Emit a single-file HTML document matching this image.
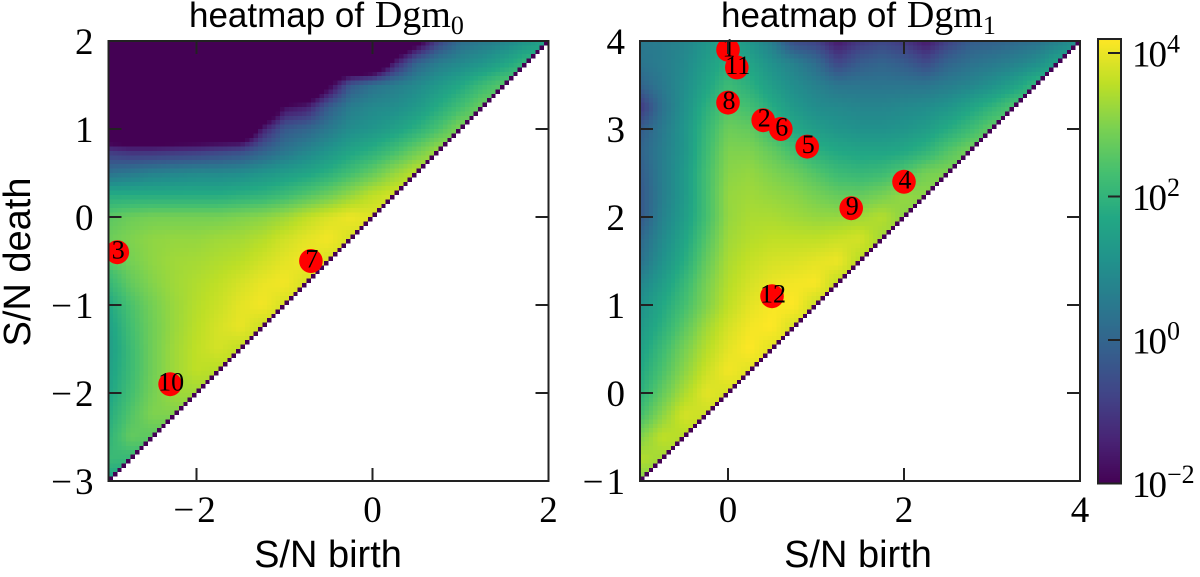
<!DOCTYPE html>
<html lang="en">
<head>
<meta charset="utf-8">
<title>Persistence diagram heatmaps</title>
<style>
html,body{margin:0;padding:0;background:#fff;width:1200px;height:577px;overflow:hidden}
svg{display:block}
.sans{font-family:"Liberation Sans",sans-serif;fill:#000}
.serif{font-family:"Liberation Serif",serif;fill:#000}
</style>
</head>
<body>
<svg id="chart" xmlns="http://www.w3.org/2000/svg" width="1200" height="577" viewBox="0 0 1200 577">
  <defs>
    <clipPath id="clip-left"><rect x="108.5" y="41" width="440" height="440"/></clipPath>
    <clipPath id="clip-right"><rect x="640" y="41" width="440" height="440"/></clipPath>
  </defs>
  <g id="panel-left"></g>
  <g id="panel-right"></g>
  <g id="colorbar"></g>
  <text x="189" y="27" class="sans" font-size="35">heatmap of <tspan class="serif" font-size="38" dx="1">Dgm</tspan><tspan class="serif" font-size="26" dy="7">0</tspan></text>
  <text x="721" y="27" class="sans" font-size="35">heatmap of <tspan class="serif" font-size="38" dx="1">Dgm</tspan><tspan class="serif" font-size="26" dy="7">1</tspan></text>
  <text x="328" y="567" class="sans" font-size="38" text-anchor="middle">S/N birth</text>
  <text x="858" y="567" class="sans" font-size="38" text-anchor="middle">S/N birth</text>
  <text x="30" y="262" class="sans" font-size="38" text-anchor="middle" transform="rotate(-90 30 262)">S/N death</text>
</svg>
<script>
// log10 density, one reading every 0.25 units.
// Rows run from the top of the axis down; each row stops at the diagonal.
const heatLeft = [
[-4,-4,-4,-4,-4,-4,-4,-4,-4,-4,-4,-4,-4,-4,-2.5,-0.8,0.2,0.5,0.8,1.2,1.6],
[-4,-4,-4,-4,-4,-4,-4,-4,-4,-4,-4,-4,-4,-1.5,0,0.6,0.9,1.2,1.6,2.1],
[-4,-4,-4,-4,-4,-4,-4,-4,-4,-4,-2.2,-0.3,0.3,0.6,0.9,1.3,1.7,2.2,2.6],
[-4,-4,-4,-4,-4,-4,-4,-4,-1.8,-1.5,-0.2,0.6,0.9,1.0,1.3,1.8,2.3,2.8],
[-4,-4,-4,-4,-4,-4,-4,-1.5,-0.3,0,0.5,1.0,1.2,1.5,1.9,2.4,3.0],
[-1.0,-1.2,-1.2,-1.1,-1.0,-0.8,-0.6,-0.1,0.4,0.8,1.2,1.6,1.9,2.3,2.8,3.3],
[0.3,0.5,0.7,0.8,0.9,0.9,1.0,1.2,1.4,1.6,1.9,2.3,2.7,3.2,3.6],
[1.8,1.8,1.8,1.8,1.8,1.8,1.9,2.0,2.2,2.5,2.8,3.2,3.6,3.8],
[2.6,2.8,2.9,2.9,2.9,2.9,3.0,3.1,3.3,3.6,3.85,4.05,3.9],
[2.8,3.0,3.15,3.2,3.2,3.3,3.35,3.5,3.75,3.95,4.1,3.8],
[2.5,2.9,3.15,3.3,3.35,3.45,3.55,3.75,3.95,4.1,3.8],
[2.1,2.7,3.05,3.3,3.45,3.6,3.8,4.0,4.1,3.8],
[1.7,2.4,2.9,3.25,3.5,3.7,3.95,4.1,3.8],
[1.5,2.3,2.85,3.25,3.55,3.8,4.0,3.7],
[1.4,2.2,2.85,3.3,3.6,3.8,3.6],
[1.5,2.2,2.85,3.3,3.6,3.5],
[1.6,2.3,2.9,3.3,3.3],
[1.8,2.5,3.0,3.0],
[2.0,2.7,2.6],
[2.2,2.1],
[1.5]
];
const heatRight = [
[0.5,0.6,0.8,1.2,1.6,1.2,0.6,-0.6,-0.8,-1.6,-1.0,-0.7,-1.0,-1.6,-0.8,-0.2,-0.1,0.1,0.3,0.7,1.2],
[0.4,0.6,0.9,1.4,1.9,1.6,1.1,0.7,0.2,-0.7,-0.2,0,-0.2,-0.6,0,0.3,0.5,0.7,1.0,1.6],
[0,0.5,1,1.6,2.2,1.9,1.4,1.0,0.7,0.4,0.4,0.4,0.4,0.4,0.6,0.8,1.1,1.5,2.1],
[-1.0,0.3,1.1,1.9,2.5,2.3,1.8,1.3,1.0,0.9,0.8,0.8,0.9,1.0,1.2,1.6,2.0,2.5],
[-0.2,0.5,1.2,2.1,2.8,2.7,2.2,1.7,1.4,1.2,1.1,1.1,1.2,1.4,1.8,2.2,2.7],
[0,0.6,1.2,2.2,3.0,3.0,2.7,2.3,1.9,1.7,1.6,1.6,1.7,2.0,2.5,2.9],
[-0.2,0.6,1.3,2.3,3.1,3.2,3.0,2.8,2.5,2.2,2.1,2.2,2.5,2.9,3.0],
[-0.3,0.6,1.3,2.3,3.2,3.3,3.2,3.1,2.9,2.7,2.7,2.9,3.2,3.1],
[-0.3,0.7,1.4,2.3,3.2,3.4,3.4,3.3,3.2,3.2,3.3,3.5,3.1],
[0.1,0.9,1.6,2.5,3.3,3.5,3.6,3.6,3.6,3.7,3.8,3.3],
[0.3,1.1,1.8,2.7,3.4,3.65,3.8,3.85,3.95,4.05,3.5],
[0.8,1.4,2.1,2.9,3.5,3.8,4.0,4.1,4.15,3.6],
[1.1,1.7,2.3,3.0,3.6,3.95,4.15,4.2,3.7],
[1.3,1.9,2.6,3.3,3.8,4.1,4.2,3.8],
[1.5,2.2,2.9,3.5,3.95,4.2,3.9],
[1.7,2.4,3.1,3.7,4.1,3.9],
[1.9,2.7,3.4,3.95,3.8],
[2.3,3.1,3.8,3.7],
[3.0,3.6,3.5],
[3.5,3.3],
[3.0]
];
const birthLeft = [-2.9,-0.7,-2.3];
const deathLeft = [-0.4,-0.5,-1.9];
const idsLeft = [3,7,10];
const birthRight = [0,0.1,0,0.4,0.6,0.9,2,1.4,0.5];
const deathRight = [3.9,3.7,3.3,3.1,3.0,2.8,2.4,2.1,1.1];
const idsRight = [1,11,8,2,6,5,4,9,12];
const xTicksLeft = [-2,0,2];
const yTicksLeft = [2,1,0,-1,-2,-3];
const xTicksRight = [0,2,4];
const yTicksRight = [4,3,2,1,0,-1];
const colorbarExponents = [4,2,0,-2];
const viridis = ['#440154','#482475','#414487','#355f8d','#2a788e','#21918c','#22a884','#44bf70','#7ad151','#bddf26','#fde725'];

const NS = 'http://www.w3.org/2000/svg';
const VMIN = -2, VMAX = 4.195, BINS = 100, AXIS_COLOR = '#222';

function hexToRgb(h){return [1,3,5].map(function(i){return parseInt(h.substr(i,2),16);});}
function colorOf(v){
  const t = Math.max(0, Math.min(1, (v-VMIN)/(VMAX-VMIN))) * (viridis.length-1);
  const i = Math.min(viridis.length-2, Math.floor(t));
  const a = hexToRgb(viridis[i]), b = hexToRgb(viridis[i+1]), f = t-i;
  return 'rgb(' + a.map(function(c,n){return Math.round(c+(b[n]-c)*f);}).join(',') + ')';
}
function sampleGrid(grid, xMin, yMax, x, y){
  const u = (x-xMin)/0.25, v = (yMax-y)/0.25;
  const j0 = Math.max(0, Math.min(19, Math.floor(u))), k0 = Math.max(0, Math.min(19, Math.floor(v)));
  const fu = u-j0, fv = v-k0;
  function read(j,k){const row = grid[k]; return row[Math.min(j,row.length-1)];}
  return (read(j0,k0)*(1-fu)+read(j0+1,k0)*fu)*(1-fv)+(read(j0,k0+1)*(1-fu)+read(j0+1,k0+1)*fu)*fv;
}
function line(parent,x1,y1,x2,y2,name){
  const el = document.createElementNS(NS,'line');
  el.setAttribute('x1',x1);el.setAttribute('y1',y1);el.setAttribute('x2',x2);el.setAttribute('y2',y2);
  el.setAttribute('stroke',AXIS_COLOR);el.setAttribute('stroke-width',2);
  
  
  parent.appendChild(el);
}
// Writes a number into a text node; the minus sign gets extra space like the reference's math font.
function fillNumber(node,v){
  if(v<0){
    const m = document.createElementNS(NS,'tspan');
    m.setAttribute('letter-spacing',3);
    m.textContent = '\u2212';
    node.appendChild(m);
  }
  node.appendChild(document.createTextNode(String(Math.abs(v))));
}

function drawPanel(cfg){
  const g = cfg.group;
  const sx = function(v){return cfg.left+(v-cfg.xMin)*88;};
  const sy = function(v){return cfg.top+(cfg.yMax-v)*88;};
  const step = 5/BINS, cw = 4.4;
  const cells = document.createElementNS(NS,'g');
  
  
  cells.setAttribute('shape-rendering','crispEdges');
  g.appendChild(cells);
  for(let col=0;col<BINS;col++){
    for(let row=col;row<BINS;row++){
      const bx = cfg.xMin+col*step, by = cfg.yMax-5+row*step;
      const val = row===col ? VMIN : sampleGrid(cfg.heat,cfg.xMin,cfg.yMax,bx+step/2,by+step/2);
      const r = document.createElementNS(NS,'rect');
      r.setAttribute('x',sx(bx).toFixed(2));
      r.setAttribute('y',sy(by+step).toFixed(2));
      r.setAttribute('width',cw);
      r.setAttribute('height',cw);
      r.setAttribute('fill',colorOf(val));
      
      
      cells.appendChild(r);
    }
  }
  const pts = document.createElementNS(NS,'g');
  pts.setAttribute('clip-path','url(#'+cfg.clip+')');
  
  
  g.appendChild(pts);
  cfg.birth.forEach(function(b,i){
    const c = document.createElementNS(NS,'ellipse');
    c.setAttribute('cx',sx(b));c.setAttribute('cy',sy(cfg.death[i]));
    c.setAttribute('rx',11.8);c.setAttribute('ry',12);c.setAttribute('fill','#ff0000');
    
    
    pts.appendChild(c);
  });
  cfg.birth.forEach(function(b,i){
    const t = document.createElementNS(NS,'text');
    t.setAttribute('x',sx(b)+1);t.setAttribute('y',sy(cfg.death[i])+6.5);
    t.setAttribute('text-anchor','middle');t.setAttribute('font-size',26);
    t.setAttribute('class','serif');
    t.textContent = cfg.ids[i];
    
    
    g.appendChild(t);
  });
  const frame = document.createElementNS(NS,'rect');
  frame.setAttribute('x',cfg.left);frame.setAttribute('y',cfg.top);
  frame.setAttribute('width',440);frame.setAttribute('height',440);
  frame.setAttribute('fill','none');frame.setAttribute('stroke',AXIS_COLOR);frame.setAttribute('stroke-width',2);
  
  
  g.appendChild(frame);
  cfg.xTicks.forEach(function(v){
    const x = sx(v);
    line(g,x,cfg.top+440,x,cfg.top+427,'x-tick-bottom');
    line(g,x,cfg.top,x,cfg.top+13,'x-tick-top');
    const t = document.createElementNS(NS,'text');
    t.setAttribute('x',x-(v<0?2:0));t.setAttribute('y',522);
    t.setAttribute('text-anchor','middle');t.setAttribute('font-size',37);
    t.setAttribute('class','serif');
    fillNumber(t,v);
    
    
    g.appendChild(t);
  });
  cfg.yTicks.forEach(function(v){
    const y = sy(v);
    line(g,cfg.left,y,cfg.left+13,y,'y-tick-left');
    line(g,cfg.left+440,y,cfg.left+427,y,'y-tick-right');
    const t = document.createElementNS(NS,'text');
    t.setAttribute('x',cfg.left-15);t.setAttribute('y',y+13);
    t.setAttribute('text-anchor','end');t.setAttribute('font-size',37);
    t.setAttribute('class','serif');
    fillNumber(t,v);
    
    
    g.appendChild(t);
  });
}

drawPanel({group:document.getElementById('panel-left'),prefix:'dgm0',clip:'clip-left',left:108.5,top:41,xMin:-3,yMax:2,
  heat:heatLeft,birth:birthLeft,death:deathLeft,ids:idsLeft,xTicks:xTicksLeft,yTicks:yTicksLeft});
drawPanel({group:document.getElementById('panel-right'),prefix:'dgm1',clip:'clip-right',left:640,top:41,xMin:-1,yMax:4,
  heat:heatRight,birth:birthRight,death:deathRight,ids:idsRight,xTicks:xTicksRight,yTicks:yTicksRight});

(function(){
  const g = document.getElementById('colorbar');
  const cbY = function(e){return 483.5-(e+2)*71.75;};
  const levels = 222, x0 = 1098, w = 23;
  const band = document.createElementNS(NS,'g');
  band.setAttribute('shape-rendering','crispEdges');
  
  
  g.appendChild(band);
  for(let i=0;i<levels;i++){
    const hi = VMIN+(i+1)*(VMAX-VMIN)/levels, lo = VMIN+i*(VMAX-VMIN)/levels;
    const r = document.createElementNS(NS,'rect');
    r.setAttribute('x',x0);r.setAttribute('y',cbY(hi).toFixed(2));
    r.setAttribute('width',w);r.setAttribute('height',(cbY(lo)-cbY(hi)+0.6).toFixed(2));
    r.setAttribute('fill',colorOf((hi+lo)/2));
    
    
    band.appendChild(r);
  }
  const frame = document.createElementNS(NS,'rect');
  frame.setAttribute('x',x0);frame.setAttribute('y',cbY(VMAX));frame.setAttribute('width',w);frame.setAttribute('height',cbY(VMIN)-cbY(VMAX));
  frame.setAttribute('fill','none');frame.setAttribute('stroke',AXIS_COLOR);frame.setAttribute('stroke-width',2);
  
  
  g.appendChild(frame);
  colorbarExponents.forEach(function(e){
    const y = cbY(e);
    line(g,x0+w,y,x0+w-13,y,'colorbar-tick');
    const t = document.createElementNS(NS,'text');
    t.setAttribute('x',1132);t.setAttribute('y',y+13.5);
    t.setAttribute('font-size',37);t.setAttribute('letter-spacing',-2);t.setAttribute('class','serif');
    t.textContent = '10';
    
    
    const s = document.createElementNS(NS,'tspan');
    s.setAttribute('font-size',26);s.setAttribute('dy',-14);s.setAttribute('dx',2);s.setAttribute('letter-spacing',0);
    s.textContent = (e<0?'\u2212':'')+Math.abs(e);
    t.appendChild(s);
    g.appendChild(t);
  });
})();
</script>
</body>
</html>
